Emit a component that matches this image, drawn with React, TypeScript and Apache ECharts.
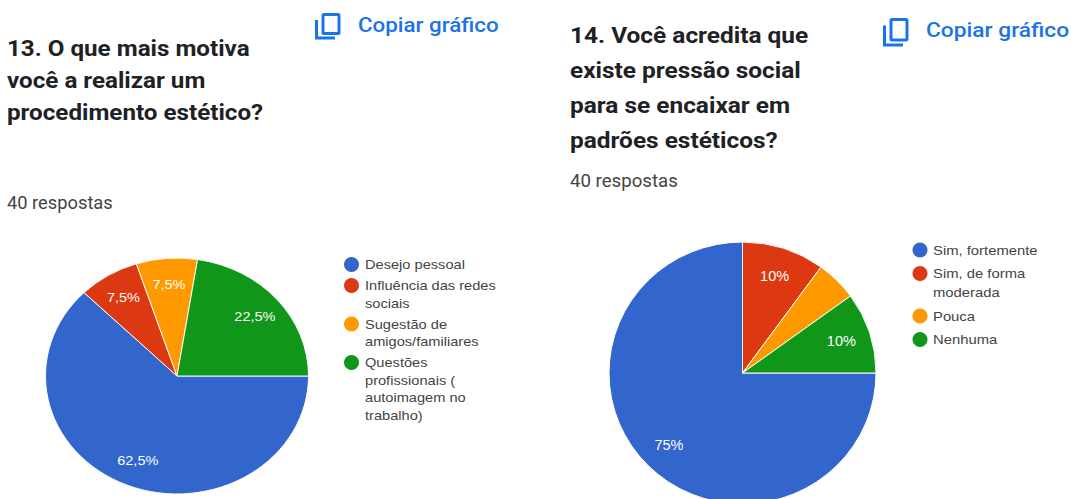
import React, { useEffect, useRef } from "react";
import * as echarts from "echarts";

const COLORS = ["#3366CC", "#DC3912", "#FF9900", "#109618"];
const RESPONSES_LABEL = "40 respostas";
const COPY_LABEL = "Copiar gráfico";

const q13Title = ["13. O que mais motiva", "você a realizar um", "procedimento estético?"];
const q13Categories = ["Desejo pessoal", "Influência das redes sociais", "Sugestão de amigos/familiares", "Questões profissionais ( autoimagem no trabalho)"];
const q13LegendLines = [["Desejo pessoal"], ["Influência das redes", "sociais"], ["Sugestão de", "amigos/familiares"], ["Questões", "profissionais (", "autoimagem no", "trabalho)"]];
const q13Values = [25, 3, 3, 9];

const q14Title = ["14. Você acredita que", "existe pressão social", "para se encaixar em", "padrões estéticos?"];
const q14Categories = ["Sim, fortemente", "Sim, de forma moderada", "Pouca", "Nenhuma"];
const q14LegendLines = [["Sim, fortemente"], ["Sim, de forma", "moderada"], ["Pouca"], ["Nenhuma"]];
const q14Values = [30, 4, 2, 4];

const TOTAL = 40;
const LABEL_MIN_PERCENT = 6;

function pieSeries(categories: string[], values: number[], cx: number, cy: number, r: number) {
  return {
    type: "pie",
    center: [cx, cy],
    radius: [0, r],
    startAngle: 0,
    clockwise: true,
    silent: true,
    avoidLabelOverlap: false,
    itemStyle: { borderColor: "#fff", borderWidth: 1 },
    label: {
      show: true,
      position: "inside",
      color: "#fff",
      fontFamily: "Liberation Sans",
      fontSize: 14.5,
      formatter: (p: any) => `${String((p.value / TOTAL) * 100).replace(".", ",")}%`,
    },
    labelLine: { show: false },
    labelLayout: (p: any) => {
      const lx = p.labelRect.x + p.labelRect.width / 2;
      const ly = p.labelRect.y + p.labelRect.height / 2;
      return { dx: (lx - cx) * 0.49, dy: (ly - cy) * 0.49 };
    },
    data: categories.map((name, i) => ({
      name,
      value: values[i],
      itemStyle: { color: COLORS[i] },
      label: { show: (values[i] / TOTAL) * 100 >= LABEL_MIN_PERCENT },
    })),
  };
}

function textLines(lines: string[], x: number, y0: number, step: number, font: any, scaleX = 1) {
  return lines.map((text, i) => ({
    type: "text",
    x,
    y: y0 + i * step,
    scaleX,
    style: { text, verticalAlign: "middle", ...font },
  }));
}

function legend(rows: string[][], cx: number, tx: number, y0: number, lineStep: number, rowGap: number, scaleX: number) {
  const out: any[] = [];
  let y = y0;
  rows.forEach((lines, i) => {
    out.push({ type: "circle", shape: { cx, cy: y, r: 7.5 }, style: { fill: COLORS[i] } });
    out.push(...textLines(lines, tx, y, lineStep, { fill: "#444", fontFamily: "Liberation Sans", fontSize: 13.6 }, scaleX));
    y += (lines.length - 1) * lineStep + rowGap;
  });
  return out;
}

function copyButton(ix: number, iy: number, sx: number, sy: number, tx: number, ty: number, textScale: number) {
  const stroke = { stroke: "#1A73E8", lineWidth: 3, fill: "none" };
  return [
    { type: "rect", shape: { x: ix + 8 * sx, y: iy + 1.5, width: 16 * sx, height: 19 * sy, r: 1 }, style: stroke },
    {
      type: "polyline",
      shape: { points: [[ix + 1.5, iy + 7 * sy], [ix + 1.5, iy + 25 * sy], [ix + 20 * sx, iy + 25 * sy]] },
      style: stroke,
    },
    {
      type: "text",
      x: tx,
      y: ty,
      scaleX: textScale,
      style: { text: COPY_LABEL, fill: "#1A73E8", fontFamily: "Roboto", fontWeight: 500, fontSize: 20.5, verticalAlign: "middle" },
    },
  ];
}

export default function App() {
  const mainRef = useRef<HTMLDivElement>(null);
  const pie13Ref = useRef<HTMLDivElement>(null);
  const pie14Ref = useRef<HTMLDivElement>(null);

  useEffect(() => {
    const main = echarts.init(mainRef.current!, undefined, { renderer: "svg" });
    const pie13 = echarts.init(pie13Ref.current!, undefined, { renderer: "svg" });
    const pie14 = echarts.init(pie14Ref.current!, undefined, { renderer: "svg" });
    const titleFont = { fill: "#202124", fontFamily: "Roboto", fontWeight: 700 };
    const subFont = { fill: "#444", fontFamily: "Roboto", fontSize: 17.6 };

    main.setOption({
      animation: false,
      graphic: [
        ...textLines(q13Title, 7, 49, 32, { ...titleFont, fontSize: 21.5 }, 1.125),
        ...textLines([RESPONSES_LABEL], 7, 203, 0, subFont, 1.04),
        ...textLines(q14Title, 570, 35, 35.2, { ...titleFont, fontSize: 22 }, 1.11),
        ...textLines([RESPONSES_LABEL], 570, 181, 0, subFont, 1.06),
        ...copyButton(315, 13, 1, 1, 358, 25, 1.09),
        ...copyButton(883, 18, 1, 1.08, 926, 30, 1.11),
        ...legend(q13LegendLines, 351.5, 365, 264.5, 17.5, 21, 1.075),
        ...legend(q14LegendLines, 920, 933, 250, 19, 23.5, 1.09),
      ],
    });

    pie13.setOption({
      animation: false,
      series: [pieSeries(q13Categories, q13Values, 177, 376, 131.5)],
    });
    pie14.setOption({
      animation: false,
      series: [pieSeries(q14Categories, q14Values, 742.5, 373, 133.5)],
    });

    return () => {
      main.dispose();
      pie13.dispose();
      pie14.dispose();
    };
  }, []);

  const layer: React.CSSProperties = { position: "absolute", left: 0, top: 0, width: 1071, height: 499 };
  const pieLayer: React.CSSProperties = { ...layer, height: 560, pointerEvents: "none" };
  return (
    <div style={{ position: "absolute", left: 0, top: 0, width: 1071, height: 499, overflow: "hidden", background: "#fff" }}>
      <div ref={mainRef} style={layer} />
      <div ref={pie13Ref} style={{ ...pieLayer, transformOrigin: "177px 376px", transform: "scaleY(0.897)" }} />
      <div ref={pie14Ref} style={{ ...pieLayer, transformOrigin: "742.5px 373px", transform: "scaleY(0.981)" }} />
    </div>
  );
}
